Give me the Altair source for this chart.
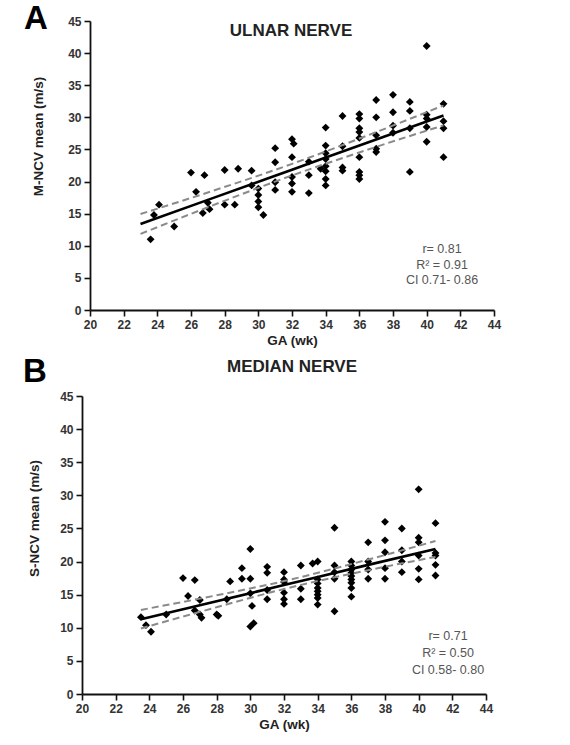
import altair as alt
import pandas as pd

# Ulnar nerve: gestational age (wk) vs motor conduction velocity (m/s)
ulnar_ga = [23.6, 23.8, 24.1, 25.0, 26.0, 26.3, 26.7, 26.8, 27.0, 27.1,
            28.0, 28.0, 28.6, 28.8, 29.6, 29.6, 30.0, 30.0, 30.0, 30.0,
            30.3, 31.0, 31.0, 31.0, 31.0, 32.0, 32.1, 32.0, 32.0, 32.0,
            32.0, 33.0, 33.0, 33.0, 33.7, 34.0, 34.0, 34.0, 34.0, 34.0,
            34.0, 34.0, 34.0, 35.0, 35.0, 35.0, 35.0, 36.0, 36.0, 36.0,
            36.0, 36.0, 36.0, 36.0, 36.0, 36.0, 37.0, 37.0, 37.0, 37.0,
            37.0, 38.0, 38.0, 38.0, 38.0, 39.0, 39.0, 39.0, 39.0, 40.0,
            40.0, 40.0, 40.0, 40.0, 41.0, 41.0, 41.0, 41.0]
ulnar_ncv = [11.0, 14.8, 16.4, 13.0, 21.4, 18.4, 15.1, 21.0, 16.7, 15.7,
             16.4, 21.8, 16.4, 22.0, 21.7, 19.4, 18.9, 17.9, 16.9, 16.0,
             14.8, 25.2, 23.0, 19.9, 18.7, 26.6, 25.9, 23.8, 20.7, 19.7,
             18.4, 23.1, 21.0, 18.2, 22.0, 28.4, 25.6, 24.4, 23.5, 22.4,
             21.6, 20.4, 19.4, 30.2, 25.5, 22.2, 21.7, 30.5, 29.8, 28.3,
             27.7, 26.8, 23.8, 21.5, 21.0, 20.4, 32.7, 30.0, 27.2, 25.1,
             24.6, 33.5, 30.8, 28.7, 27.6, 32.4, 31.0, 28.3, 21.5, 41.1,
             30.4, 29.8, 28.5, 26.2, 32.1, 29.4, 28.3, 23.8]

# Median nerve: gestational age (wk) vs sensory conduction velocity (m/s)
median_ga = [23.5, 23.8, 24.1, 25.0, 26.0, 26.3, 26.7, 26.7, 27.0, 27.0,
             27.1, 28.0, 28.1, 28.6, 28.8, 29.5, 29.5, 30.0, 30.0, 30.0,
             30.1, 30.0, 30.2, 31.0, 31.0, 31.0, 31.0, 32.0, 32.0, 32.0,
             32.0, 32.0, 32.0, 33.0, 33.0, 33.0, 33.7, 34.0, 34.0, 34.0,
             34.0, 34.0, 34.0, 34.0, 34.0, 35.0, 35.0, 35.0, 35.0, 35.0,
             36.0, 36.0, 36.0, 36.0, 36.0, 36.0, 36.0, 36.0, 36.0, 37.0,
             37.0, 37.0, 37.0, 38.0, 38.0, 38.0, 38.0, 38.0, 39.0, 39.0,
             39.0, 39.0, 40.0, 40.0, 40.0, 40.0, 40.0, 40.0, 41.0, 41.0,
             41.0, 41.0, 41.0]
median_ncv = [11.6, 10.4, 9.4, 12.0, 17.5, 14.8, 17.2, 12.6, 14.2, 12.0,
              11.5, 12.0, 11.8, 14.3, 17.0, 19.0, 17.4, 21.9, 17.4, 15.2,
              13.3, 10.2, 10.7, 19.2, 18.3, 15.7, 14.3, 18.4, 17.3, 16.9,
              15.3, 14.3, 13.6, 19.4, 15.9, 14.3, 19.7, 20.0, 17.3, 16.7,
              16.0, 15.5, 15.0, 14.5, 13.5, 25.1, 19.4, 18.4, 17.4, 12.5,
              20.0, 19.4, 18.8, 18.3, 17.8, 17.3, 16.8, 16.0, 14.7, 22.9,
              20.0, 18.8, 17.4, 26.0, 23.2, 21.4, 19.0, 17.4, 25.0, 21.7,
              20.0, 18.4, 30.9, 23.6, 22.9, 20.9, 18.9, 17.3, 25.8, 21.3,
              20.9, 19.5, 17.9]

# Fitted regression lines with their 95% confidence bands
ulnar_fit_ga = [23.0, 27.0, 32.0, 37.0, 41.0]
ulnar_fit = [13.4, 17.15, 21.85, 26.55, 30.3]
ulnar_upper = [14.95, 18.3, 22.75, 27.7, 31.85]
ulnar_lower = [11.85, 16.0, 20.95, 25.4, 28.75]

median_fit_ga = [23.5, 27.0, 32.0, 37.0, 41.0]
median_fit = [11.3, 13.4, 16.45, 19.5, 21.9]
median_upper = [12.7, 14.4, 17.05, 20.3, 23.1]
median_lower = [9.9, 12.4, 15.85, 18.7, 20.7]

ulnar_stats = ["r= 0.81", "R\u00b2 = 0.91", "CI 0.71- 0.86"]
median_stats = ["r= 0.71", "R\u00b2 = 0.50", "CI 0.58- 0.80"]

x_ticks = list(range(20, 45, 2))
y_ticks = list(range(0, 46, 5))

FONT = "Liberation Sans"
W = 404


def panel(ga, ncv, fit_ga, fit, upper, lower, stats, letter, title, ytitle,
          h, shift, title_pos, letter_pos, stats_pos, ytitle_pos):
    """One scatter panel; `shift` moves the plot frame right inside its cell."""
    pts = pd.DataFrame({"ga": ga, "ncv": ncv})
    fits = pd.DataFrame({"ga": fit_ga, "fit": fit, "upper": upper, "lower": lower})

    xscale = alt.Scale(domain=[20, 44], nice=False, range=[shift, W + shift])
    yscale = alt.Scale(domain=[0, 45], nice=False)
    xaxis = alt.Axis(values=x_ticks, title="GA (wk)", grid=False, titlePadding=3,
                     labelOverlap=False, labelFlush=False)
    yaxis = alt.Axis(values=y_ticks, title=ytitle, grid=False, offset=-shift,
                     labelOverlap=False, labelFlush=False,
                     titleX=ytitle_pos[0], titleY=ytitle_pos[1],
                     titleBaseline="middle")

    def xy(yfield):
        return dict(x=alt.X("ga:Q", scale=xscale, axis=xaxis),
                    y=alt.Y(f"{yfield}:Q", scale=yscale, axis=yaxis))

    points = alt.Chart(pts).mark_point(
        shape="diamond", filled=True, size=62, color="#000000", opacity=1
    ).encode(**xy("ncv"))

    base = alt.Chart(fits)
    line = base.mark_line(color="#000000", strokeWidth=2.6,
                          interpolate="monotone").encode(**xy("fit"))
    up = base.mark_line(color="#8a8a8a", strokeWidth=2, strokeDash=[7, 4],
                        interpolate="monotone").encode(**xy("upper"))
    lo = base.mark_line(color="#8a8a8a", strokeWidth=2, strokeDash=[7, 4],
                        interpolate="monotone").encode(**xy("lower"))

    one = pd.DataFrame({"k": [0]})
    ttl = alt.Chart(one).mark_text(
        text=title, font=FONT, fontSize=17, fontWeight="bold", color="#222222",
        align="center", baseline="alphabetic"
    ).encode(x=alt.value(title_pos[0] + shift), y=alt.value(title_pos[1]))
    let = alt.Chart(one).mark_text(
        text=letter, font=FONT, fontSize=33, fontWeight="bold", color="#000000",
        align="center", baseline="alphabetic"
    ).encode(x=alt.value(letter_pos[0] + shift), y=alt.value(letter_pos[1]))
    st = alt.Chart(one).mark_text(
        text=stats, font=FONT, fontSize=12.5, color="#555555", align="center",
        baseline="middle", lineHeight=stats_pos[2]
    ).encode(x=alt.value(stats_pos[0] + shift), y=alt.value(stats_pos[1]))

    return alt.layer(points, line, up, lo, ttl, let, st).properties(
        width=W + shift, height=h)


chart_a = panel(ulnar_ga, ulnar_ncv, ulnar_fit_ga, ulnar_fit, ulnar_upper, ulnar_lower,
                ulnar_stats, "A", "ULNAR NERVE", "M-NCV mean (m/s)", 289, 8,
                (201, 15), (-54, 8), (352, 228, 15.5), (-52, 115))
chart_b = panel(median_ga, median_ncv, median_fit_ga, median_fit, median_upper, median_lower,
                median_stats, "B", "MEDIAN NERVE", "S-NCV mean (m/s)", 298, 0,
                (210, -24), (-47, -14), (366, 240, 17), (-48, 122))

chart = alt.concat(chart_a, chart_b, columns=1, spacing=9, align="none").properties(
    padding={"left": 23, "top": 3, "right": 5, "bottom": 5}
).configure_view(stroke=None).configure_axis(
    domainColor="#111111", domainWidth=1.8, tickColor="#111111", tickWidth=1.6,
    tickSize=6, labelPadding=3, labelFont=FONT, labelFontSize=12,
    labelFontWeight="bold", labelColor="#333333", titleFont=FONT,
    titleFontSize=13.5, titleFontWeight="bold", titleColor="#222222"
)

chart.save("out.html", embed_options={"renderer": "svg", "actions": False})
